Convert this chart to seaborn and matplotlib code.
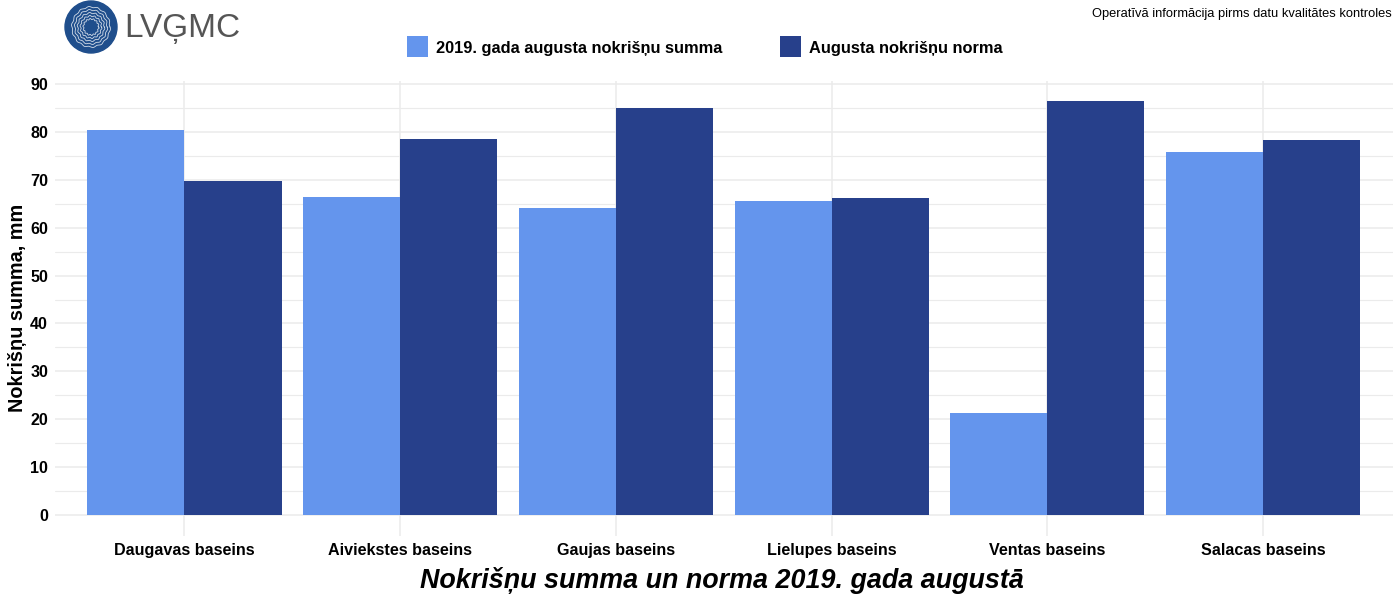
import numpy as np
import pandas as pd
import matplotlib
matplotlib.use("Agg")
import matplotlib.pyplot as plt
import seaborn as sns
from matplotlib.patches import Circle, Rectangle

categories = ["Daugavas baseins", "Aiviekstes baseins", "Gaujas baseins",
              "Lielupes baseins", "Ventas baseins", "Salacas baseins"]
sum_2019 = [80.4, 66.4, 64.1, 65.6, 21.3, 75.8]
norm_aug = [69.7, 78.5, 85.0, 66.2, 86.4, 78.3]
series_names = ["2019. gada augusta nokrišņu summa", "Augusta nokrišņu norma"]
y_ticks = [0, 10, 20, 30, 40, 50, 60, 70, 80, 90]

colors = ["#6495ED", "#27408B"]

df = pd.DataFrame({
    "basin": categories * 2,
    "value": sum_2019 + norm_aug,
    "series": [series_names[0]] * len(categories) + [series_names[1]] * len(categories),
})

sns.set_theme(style="white")
plt.rcParams["font.family"] = ["Liberation Sans", "DejaVu Sans"]
plt.rcParams["text.color"] = "black"
plt.rcParams["xtick.color"] = "black"
plt.rcParams["ytick.color"] = "black"
plt.rcParams["axes.labelcolor"] = "black"

fig = plt.figure(figsize=(14, 6), dpi=100)
ax = fig.add_axes([55 / 1400, 1 - 535.7 / 600, (1392.6 - 55) / 1400, (535.7 - 80.6) / 600])

# grid
for y in np.arange(0, 91, 5):
    ax.axhline(y, color="#EBEBEB", lw=1.1 if y % 10 == 0 else 0.8, zorder=0)
for i in range(len(categories)):
    ax.axvline(i, color="#EBEBEB", lw=1.1, zorder=0)

sns.barplot(data=df, x="basin", y="value", hue="series", palette=colors,
            width=0.9, gap=0, saturation=1, ax=ax, legend=False, zorder=2,
            linewidth=0, edgecolor="none")

ax.set_xlim(-0.6, len(categories) - 0.4)
ax.set_ylim(-4.32, 90.72)
ax.set_yticks(y_ticks)
ax.set_yticklabels([str(t) for t in y_ticks], fontsize=11.6, fontweight="bold")
ax.set_xticks(range(len(categories)))
ax.set_xticklabels(categories, fontsize=11.6, fontweight="bold")
ax.tick_params(axis="both", length=0)
ax.tick_params(axis="y", pad=5)
ax.tick_params(axis="x", pad=5)
for s in ax.spines.values():
    s.set_visible(False)
ax.set_xlabel("")
ax.set_ylabel("Nokrišņu summa, mm", fontsize=14.3, fontweight="bold", labelpad=2)

# title at bottom
fig.text(722 / 1400, 1 - 581 / 600, "Nokrišņu summa un norma 2019. gada augustā",
         ha="center", va="center", fontsize=19.4, fontweight="bold", style="italic")

# legend
leg_items = [(407, series_names[0], colors[0]), (780, series_names[1], colors[1])]
for x0, label, c in leg_items:
    fig.patches.append(Rectangle((x0 / 1400, 1 - 57 / 600), 21 / 1400, 21 / 600,
                                 transform=fig.transFigure, facecolor=c, edgecolor="none"))
    fig.text((x0 + 29) / 1400, 1 - 49 / 600, label, ha="left", va="center",
             fontsize=11.8, fontweight="bold")

# top-right note
fig.text(1392 / 1400, 1 - 14 / 600, "Operatīvā informācija pirms datu kvalitātes kontroles",
         ha="right", va="center", fontsize=9.3)

# logo
logo_ax = fig.add_axes([60 / 1400, 1 - 56 / 600, 60 / 1400, 56 / 600])
logo_ax.set_xlim(0, 60)
logo_ax.set_ylim(56, 0)
logo_ax.set_aspect("equal")
logo_ax.axis("off")
logo_ax.add_patch(Circle((31, 27), 26, color="#1F4E8C"))
for r in [8, 11, 14, 17, 20]:
    th = np.linspace(0, 2 * np.pi, 300)
    rr = r + 0.6 * np.sin(th * 14)
    logo_ax.plot(31 + rr * np.cos(th) * 0.95, 27 + rr * np.sin(th), color="white", lw=0.6, alpha=0.8)
fig.text(124 / 1400, 1 - 29 / 600, "LVĢMC", ha="left", va="center",
         fontsize=24, color="#555555", family=["Liberation Sans", "DejaVu Sans"])

fig.savefig("out.png", dpi=100)
